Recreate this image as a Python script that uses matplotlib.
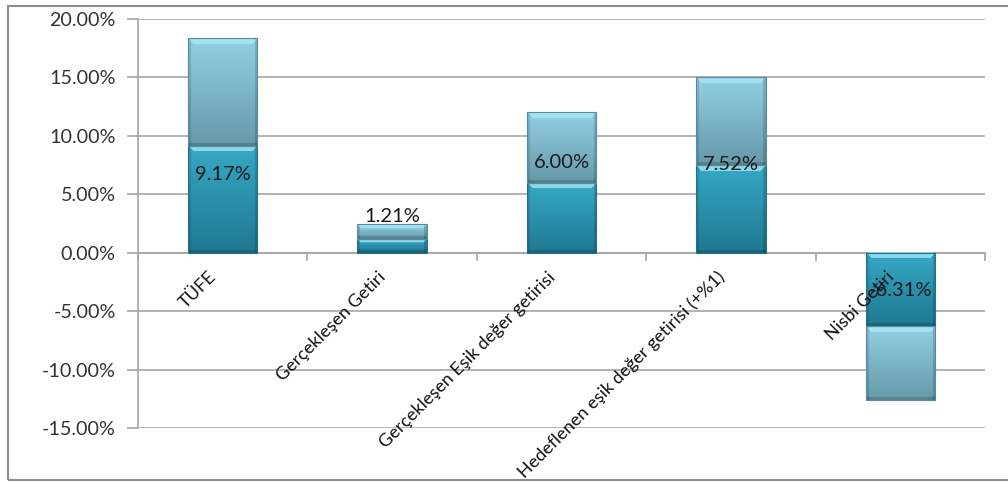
import numpy as np
import matplotlib
matplotlib.use("Agg")
import matplotlib.pyplot as plt
from matplotlib.colors import to_rgb
from matplotlib.patches import Rectangle

plt.rcParams['font.family'] = ['Lato', 'DejaVu Sans']

# data
categories = ["TÜFE", "Gerçekleşen Getiri", "Gerçekleşen Eşik değer getirisi",
              "Hedeflenen eşik değer getirisi (+%1)", "Nisbi Getiri"]
values = [9.17, 1.21, 6.00, 7.52, -6.31]
value_labels = ["9.17%", "1.21%", "6.00%", "7.52%", "-6.31%"]
y_ticks = [-15, -10, -5, 0, 5, 10, 15, 20]

# label nudges (pixels, from the boundary between the two segments)
label_dy = [-29, 22, 20, 0, 36]

GRID = '#a6a6a6'


def shade(ax, rect, top, bottom):
    # vertical gradient + bevel look, clipped to the bar
    x0, w = rect.get_x(), rect.get_width()
    y0, h = rect.get_y(), rect.get_height()
    ylo, yhi = min(y0, y0 + h), max(y0, y0 + h)
    (px0, py0), (px1, py1) = ax.transData.transform([(x0, ylo), (x0 + w, yhi)])
    W = max(int(round(px1 - px0)), 4)
    H = max(int(round(py1 - py0)), 4)
    t = np.linspace(0, 1, H)[:, None, None]
    img = (1 - t) * np.array(to_rgb(top)) + t * np.array(to_rgb(bottom))
    img = np.repeat(img, W, axis=1)
    hl = np.array(to_rgb('#a8e9f6'))
    b = min(6, H // 3)
    for r in range(b):
        img[r, r:W - r] = hl * 0.75 + img[r, r:W - r] * 0.25
    img[:, :3] *= 0.88
    img[:, -3:] *= 0.85
    img[-3:, :] *= 0.85
    ax.imshow(img, extent=[x0, x0 + w, ylo, yhi], aspect='auto', origin='upper',
              zorder=3, interpolation='bilinear', clip_path=rect)


fig = plt.figure(figsize=(10.08, 4.82), dpi=100)
ax = fig.add_axes([0.1369, 0.112, 0.8403, 0.8486])
ax.set_xlim(-0.5, len(categories) - 0.5)
ax.set_ylim(-15, 20)
ax.set_autoscale_on(False)

x = np.arange(len(categories))
low = ax.bar(x, values, width=0.41, color='none', edgecolor='#2a6f80', lw=0.8, zorder=4)
high = ax.bar(x, values, width=0.41, bottom=values, color='none', edgecolor='#5a8a99', lw=0.8, zorder=4)

for r in low:
    shade(ax, r, '#36a9c6', '#1f7891')
for r in high:
    shade(ax, r, '#92d0e5', '#6599a9')

# value labels
for i, v in enumerate(values):
    ax.annotate(value_labels[i], xy=(i, v), xytext=(0, label_dy[i]), textcoords='offset pixels',
                ha='center', va='center', fontsize=14.5, color='#1a1a1a', zorder=6)

# category labels
for i, c in enumerate(categories):
    ax.annotate(c, xy=(i, 0), xytext=(-3, -16), textcoords='offset pixels',
                ha='right', va='top', rotation=45, fontsize=13, color='#111111', zorder=6)

ax.set_yticks(y_ticks)
ax.set_yticklabels([f"{v:.2f}%" for v in y_ticks])
ax.yaxis.grid(True, color=GRID, lw=1.2, zorder=0)
ax.set_axisbelow(True)
ax.tick_params(axis='y', direction='out', length=8, width=1.2, color=GRID, pad=8,
               labelsize=14.2, labelcolor='#333333')

ax.set_xticks(np.arange(-0.5, len(categories), 1))
ax.set_xticklabels([])
ax.tick_params(axis='x', direction='out', length=6, width=1.2, color=GRID)

ax.spines['bottom'].set_position(('data', 0))
ax.spines['bottom'].set_color(GRID)
ax.spines['bottom'].set_linewidth(1.2)
ax.spines['left'].set_color(GRID)
ax.spines['left'].set_linewidth(1.2)
ax.spines['top'].set_visible(False)
ax.spines['right'].set_visible(False)

# outer chart frame
fig.patches.append(Rectangle((8 / 1008, 2 / 482), 1.1, 474 / 482, transform=fig.transFigure,
                             fill=False, edgecolor='#8c8c8c', lw=1.5))

fig.savefig("out.png", dpi=100)
